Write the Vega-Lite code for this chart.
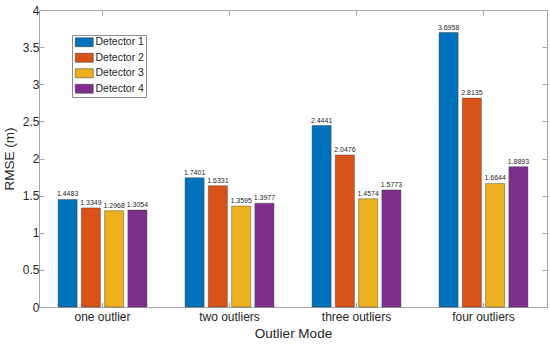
{
  "$schema": "https://vega.github.io/schema/vega-lite/v6.json",
  "width": 508,
  "height": 297,
  "autosize": "none",
  "padding": {"left": 39, "top": 10, "right": 3, "bottom": 38},
  "config": {
    "font": "Liberation Sans",
    "view": {"stroke": "#a6a6a6", "strokeWidth": 1}
  },
  "data": {
    "values": [
      {"mode": "one outlier", "detector": "Detector 1", "rmse": 1.4483},
      {"mode": "one outlier", "detector": "Detector 2", "rmse": 1.3349},
      {"mode": "one outlier", "detector": "Detector 3", "rmse": 1.2968},
      {"mode": "one outlier", "detector": "Detector 4", "rmse": 1.3054},
      {"mode": "two outliers", "detector": "Detector 1", "rmse": 1.7401},
      {"mode": "two outliers", "detector": "Detector 2", "rmse": 1.6331},
      {"mode": "two outliers", "detector": "Detector 3", "rmse": 1.3595},
      {"mode": "two outliers", "detector": "Detector 4", "rmse": 1.3977},
      {"mode": "three outliers", "detector": "Detector 1", "rmse": 2.4441},
      {"mode": "three outliers", "detector": "Detector 2", "rmse": 2.0476},
      {"mode": "three outliers", "detector": "Detector 3", "rmse": 1.4574},
      {"mode": "three outliers", "detector": "Detector 4", "rmse": 1.5773},
      {"mode": "four outliers", "detector": "Detector 1", "rmse": 3.6958},
      {"mode": "four outliers", "detector": "Detector 2", "rmse": 2.8135},
      {"mode": "four outliers", "detector": "Detector 3", "rmse": 1.6644},
      {"mode": "four outliers", "detector": "Detector 4", "rmse": 1.8893}
    ]
  },
  "layer": [
    {
      "encoding": {
        "x": {
          "field": "mode",
          "type": "nominal",
          "sort": ["one outlier", "two outliers", "three outliers", "four outliers"],
          "scale": {"paddingInner": 0.3, "paddingOuter": 0.15},
          "axis": {
            "title": "Outlier Mode",
            "labelAngle": 0,
            "labelFontSize": 12,
            "labelColor": "#262626",
            "labelPadding": 9,
            "titleFontSize": 13.5,
            "titleFontWeight": "normal",
            "titleColor": "#262626",
            "titlePadding": 4,
            "domain": false,
            "grid": false,
            "bandPosition": 0.5,
            "tickSize": -5,
            "tickColor": "#a6a6a6"
          }
        },
        "xOffset": {
          "field": "detector",
          "type": "nominal",
          "scale": {"paddingInner": 0.18, "paddingOuter": 0}
        },
        "y": {
          "field": "rmse",
          "type": "quantitative",
          "scale": {"domain": [0, 4], "nice": false},
          "axis": {
            "title": "RMSE (m)",
            "values": [0, 0.5, 1, 1.5, 2, 2.5, 3, 3.5, 4],
            "format": "~g",
            "labelFontSize": 12,
            "labelColor": "#262626",
            "labelPadding": 5,
            "titleFontSize": 13.5,
            "titleFontWeight": "normal",
            "titleColor": "#262626",
            "titlePadding": 6,
            "domain": false,
            "grid": false,
            "tickSize": -5,
            "tickColor": "#a6a6a6"
          }
        }
      },
      "layer": [
        {
          "mark": {"type": "bar", "stroke": "#333333", "strokeWidth": 0.4},
          "encoding": {
            "color": {
              "field": "detector",
              "type": "nominal",
              "scale": {
                "domain": ["Detector 1", "Detector 2", "Detector 3", "Detector 4"],
                "range": ["#0072BD", "#D95319", "#EDB120", "#7E2F8E"]
              },
              "legend": {
                "title": null,
                "orient": "none",
                "legendX": 33,
                "legendY": 25,
                "fillColor": "white",
                "strokeColor": "#8c8c8c",
                "padding": 2,
                "symbolType": "M-2,-1L2,-1L2,1L-2,1Z",
                "symbolSize": 81,
                "symbolOffset": 5,
                "symbolStrokeColor": "#333333",
                "symbolStrokeWidth": 0.5,
                "symbolOpacity": 1,
                "labelOffset": 6,
                "labelFontSize": 10.5,
                "labelColor": "#262626",
                "rowPadding": 3.5
              }
            }
          }
        },
        {
          "mark": {"type": "text", "baseline": "bottom", "dy": -2, "fontSize": 7, "color": "#262626"},
          "encoding": {
            "text": {"field": "rmse", "type": "quantitative", "format": ".4f"}
          }
        }
      ]
    },
    {
      "mark": {"type": "bar", "opacity": 0},
      "encoding": {
        "x": {
          "field": "mode",
          "type": "nominal",
          "sort": ["one outlier", "two outliers", "three outliers", "four outliers"],
          "axis": {"orient": "top", "labels": false, "title": null, "domain": false, "grid": false, "bandPosition": 0.5, "tickSize": -5, "tickColor": "#a6a6a6"}
        },
        "y": {
          "field": "rmse",
          "type": "quantitative",
          "axis": {"orient": "right", "values": [0, 0.5, 1, 1.5, 2, 2.5, 3, 3.5, 4], "labels": false, "title": null, "domain": false, "grid": false, "tickSize": -5, "tickColor": "#a6a6a6"}
        }
      }
    }
  ],
  "resolve": {"axis": {"x": "independent", "y": "independent"}}
}
